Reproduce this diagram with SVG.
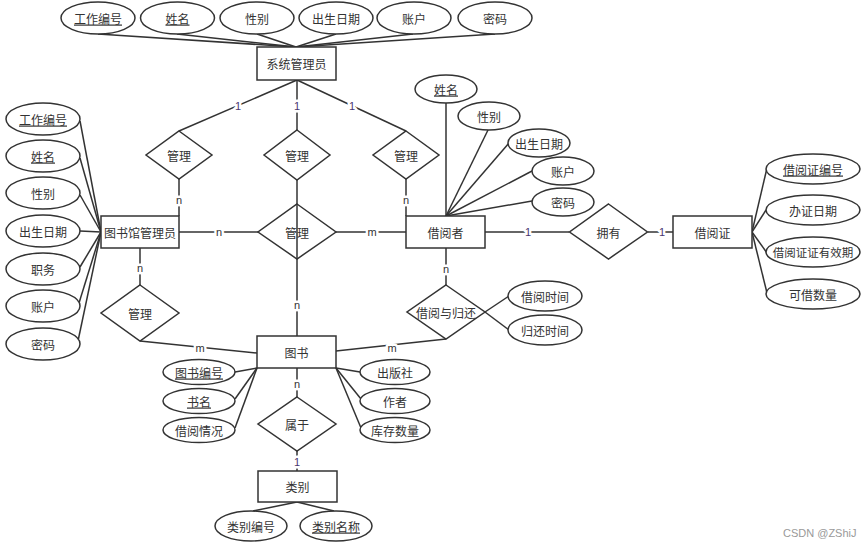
<svg xmlns="http://www.w3.org/2000/svg" width="864" height="547" viewBox="0 0 864 547">
<style>
.e{fill:#fff;stroke:#333;stroke-width:1.5}
.r{fill:#fff;stroke:#333;stroke-width:1.5}
.d{fill:#fff;stroke:#333;stroke-width:1.5}
.c line,.c polyline{stroke:#333;stroke-width:1.5;fill:none}
text{font-family:"Noto Sans CJK SC","Liberation Sans",sans-serif;font-size:12px;fill:#333;text-anchor:middle;dominant-baseline:central}
.u{text-decoration:underline}
.lb{font-family:"Liberation Sans","Noto Sans",sans-serif;font-size:11px;paint-order:stroke;stroke:#fff;stroke-width:5px;stroke-linejoin:round}
.one{fill:#4a3570}
.wm{font-family:"Liberation Sans",sans-serif;font-size:11px;fill:#999;text-anchor:start}
</style>
<rect width="864" height="547" fill="#fff"/>
<g id="connectors" class="c">
<!-- sys admin attributes -->
<line x1="98" y1="34" x2="296" y2="47"/>
<line x1="177" y1="34" x2="296" y2="47"/>
<line x1="257" y1="34" x2="296" y2="47"/>
<line x1="336" y1="34" x2="296" y2="47"/>
<line x1="413" y1="34" x2="296" y2="47"/>
<line x1="495" y1="34" x2="296" y2="47"/>
<!-- sys admin to diamonds -->
<line x1="297" y1="80" x2="179" y2="131"/>
<line x1="297" y1="80" x2="297" y2="130"/>
<line x1="297" y1="80" x2="406" y2="131"/>
<line x1="179" y1="179" x2="179" y2="216"/>
<line x1="406" y1="179" x2="406" y2="216"/>
<line x1="297" y1="180" x2="297" y2="336"/>
<!-- lib admin attributes -->
<line x1="80" y1="121" x2="101" y2="232"/>
<line x1="80" y1="158" x2="101" y2="232"/>
<line x1="80" y1="195" x2="101" y2="232"/>
<line x1="80" y1="231" x2="101" y2="232"/>
<line x1="80" y1="267" x2="101" y2="232"/>
<line x1="79" y1="303" x2="101" y2="232"/>
<line x1="78" y1="341" x2="101" y2="232"/>
<!-- horizontal middle -->
<line x1="179" y1="232" x2="258" y2="232"/>
<line x1="336" y1="232" x2="406" y2="232"/>
<line x1="485" y1="232" x2="569" y2="232"/>
<line x1="648" y1="232" x2="673" y2="232"/>
<!-- lib admin to book -->
<line x1="140" y1="248" x2="140" y2="285"/>
<line x1="140" y1="341" x2="257" y2="353"/>
<!-- reader -->
<line x1="446" y1="103" x2="446" y2="216"/>
<line x1="488" y1="130" x2="446" y2="216"/>
<line x1="509" y1="143" x2="446" y2="216"/>
<line x1="532" y1="171" x2="446" y2="216"/>
<line x1="532" y1="201" x2="446" y2="216"/>
<line x1="446" y1="248" x2="446" y2="285"/>
<line x1="446" y1="339" x2="336" y2="351"/>
<line x1="485" y1="312" x2="509" y2="296"/>
<line x1="485" y1="312" x2="509" y2="330"/>
<!-- card -->
<line x1="752" y1="232" x2="767" y2="168"/>
<line x1="752" y1="232" x2="766" y2="210"/>
<line x1="752" y1="232" x2="767" y2="253"/>
<line x1="752" y1="232" x2="767" y2="293"/>
<!-- book attributes -->
<line x1="257" y1="368" x2="235" y2="372"/>
<line x1="257" y1="368" x2="235" y2="399"/>
<line x1="257" y1="368" x2="235" y2="428"/>
<line x1="336" y1="368" x2="360" y2="372"/>
<line x1="336" y1="368" x2="361" y2="399"/>
<line x1="336" y1="368" x2="361" y2="428"/>
<line x1="297" y1="368" x2="297" y2="397"/>
<line x1="297" y1="451" x2="297" y2="471"/>
<!-- category -->
<line x1="297" y1="502" x2="253" y2="511"/>
<line x1="297" y1="502" x2="334" y2="511"/>
<!-- labels -->
<text class="lb one" x="238" y="106">1</text>
<text class="lb one" x="297" y="106">1</text>
<text class="lb one" x="352" y="106">1</text>
<text class="lb" x="179" y="200">n</text>
<text class="lb" x="406" y="200">n</text>
<text class="lb" x="219" y="232">n</text>
<text class="lb" x="372" y="232">m</text>
<text class="lb" x="297" y="305">n</text>
<text class="lb" x="140" y="268">n</text>
<text class="lb" x="200" y="348">m</text>
<text class="lb" x="392" y="348">m</text>
<text class="lb" x="446" y="269">n</text>
<text class="lb one" x="528" y="232">1</text>
<text class="lb one" x="662" y="232">1</text>
<text class="lb" x="297" y="384">n</text>
<text class="lb one" x="297" y="462">1</text>
</g>
<g id="sysadmin">
<rect class="r" x="257" y="47" width="79" height="33"/>
<text x="296.5" y="63.5">系统管理员</text>
</g>
<g id="sysadmin-attrs">
<ellipse class="e" cx="98" cy="18" rx="37" ry="16"/><text class="u" x="98" y="18">工作编号</text>
<ellipse class="e" cx="177.5" cy="18" rx="37" ry="16"/><text class="u" x="177.5" y="18">姓名</text>
<ellipse class="e" cx="257" cy="18" rx="37" ry="16"/><text x="257" y="18">性别</text>
<ellipse class="e" cx="336" cy="18" rx="37" ry="16"/><text x="336" y="18">出生日期</text>
<ellipse class="e" cx="414" cy="18" rx="37" ry="16"/><text x="414" y="18">账户</text>
<ellipse class="e" cx="495" cy="18" rx="37" ry="16"/><text x="495" y="18">密码</text>
</g>
<g id="rel-manage-1"><polygon class="d" points="179,131 212,155 179,179 146,155"/><text x="179" y="155">管理</text></g>
<g id="rel-manage-2"><polygon class="d" points="297,130 330,155 297,180 264,155"/><text x="297" y="155">管理</text></g>
<g id="rel-manage-3"><polygon class="d" points="406,131 439,155 406,179 373,155"/><text x="406" y="155">管理</text></g>
<g id="rel-manage-center"><polygon class="d" style="fill:none" points="297,204 336,232 297,259 258,232"/><text x="297" y="232">管理</text></g>
<g id="rel-manage-book"><polygon class="d" points="140,285 179,313 140,341 101,313"/><text x="140" y="313">管理</text></g>
<g id="libadmin">
<rect class="r" x="101" y="216" width="78" height="32"/>
<text x="140" y="232">图书馆管理员</text>
</g>
<g id="libadmin-attrs">
<ellipse class="e" cx="43" cy="119" rx="37" ry="16"/><text class="u" x="43" y="119">工作编号</text>
<ellipse class="e" cx="43" cy="156" rx="37" ry="16"/><text class="u" x="43" y="156">姓名</text>
<ellipse class="e" cx="43" cy="193" rx="37" ry="16"/><text x="43" y="193">性别</text>
<ellipse class="e" cx="43" cy="231" rx="37" ry="16"/><text x="43" y="231">出生日期</text>
<ellipse class="e" cx="43" cy="269" rx="37" ry="16"/><text x="43" y="269">职务</text>
<ellipse class="e" cx="43" cy="306" rx="37" ry="16"/><text x="43" y="306">账户</text>
<ellipse class="e" cx="43" cy="344" rx="37" ry="16"/><text x="43" y="344">密码</text>
</g>
<g id="reader">
<rect class="r" x="406" y="216" width="79" height="32"/>
<text x="445.5" y="232">借阅者</text>
</g>
<g id="reader-attrs">
<ellipse class="e" cx="446" cy="89" rx="31" ry="14"/><text class="u" x="446" y="89">姓名</text>
<ellipse class="e" cx="489" cy="116" rx="31" ry="14"/><text x="489" y="116">性别</text>
<ellipse class="e" cx="539" cy="143" rx="31" ry="14"/><text x="539" y="143">出生日期</text>
<ellipse class="e" cx="563" cy="171" rx="31" ry="14"/><text x="563" y="171">账户</text>
<ellipse class="e" cx="563" cy="202" rx="31" ry="14"/><text x="563" y="202">密码</text>
</g>
<g id="rel-own"><polygon class="d" points="608.5,204 647.5,232 608.5,259 569.5,232"/><text x="608.5" y="232">拥有</text></g>
<g id="card">
<rect class="r" x="673" y="216" width="79" height="32"/>
<text x="712.5" y="232">借阅证</text>
</g>
<g id="card-attrs">
<ellipse class="e" cx="813" cy="169" rx="47" ry="15"/><text class="u" x="813" y="169">借阅证编号</text>
<ellipse class="e" cx="813" cy="210" rx="47" ry="15"/><text x="813" y="210">办证日期</text>
<ellipse class="e" cx="813" cy="252" rx="47" ry="15"/><text x="813" y="252" style="font-size:11.5px">借阅证证有效期</text>
<ellipse class="e" cx="813" cy="294" rx="47" ry="15"/><text x="813" y="294">可借数量</text>
</g>
<g id="rel-borrow"><polygon class="d" points="446,285 485,312 446,339 407,312"/><text x="446" y="312">借阅与归还</text></g>
<g id="borrow-attrs">
<ellipse class="e" cx="545" cy="296" rx="37" ry="15"/><text x="545" y="296">借阅时间</text>
<ellipse class="e" cx="545" cy="330" rx="37" ry="15"/><text x="545" y="330">归还时间</text>
</g>
<g id="book">
<rect class="r" x="257" y="336" width="79" height="32"/>
<text x="296.5" y="352">图书</text>
</g>
<g id="book-attrs">
<ellipse class="e" cx="199" cy="372" rx="36" ry="12.5"/><text class="u" x="199" y="372">图书编号</text>
<ellipse class="e" cx="199" cy="401" rx="36" ry="12.5"/><text class="u" x="199" y="401">书名</text>
<ellipse class="e" cx="199" cy="430" rx="36" ry="12.5"/><text x="199" y="430">借阅情况</text>
<ellipse class="e" cx="395" cy="372" rx="35" ry="12.5"/><text x="395" y="372">出版社</text>
<ellipse class="e" cx="395" cy="401" rx="35" ry="12.5"/><text x="395" y="401">作者</text>
<ellipse class="e" cx="395" cy="430" rx="35" ry="12.5"/><text x="395" y="430">库存数量</text>
</g>
<g id="rel-belong"><polygon class="d" points="297,397 336,424 297,451 258,424"/><text x="297" y="424">属于</text></g>
<g id="category">
<rect class="r" x="258" y="471" width="79" height="31"/>
<text x="297.5" y="486.5">类别</text>
</g>
<g id="category-attrs">
<ellipse class="e" cx="251" cy="526" rx="36" ry="15"/><text x="251" y="526">类别编号</text>
<ellipse class="e" cx="336" cy="526" rx="36" ry="15"/><text class="u" x="336" y="526">类别名称</text>
</g>
<text class="wm" x="783" y="533">CSDN @ZShiJ</text>
</svg>
